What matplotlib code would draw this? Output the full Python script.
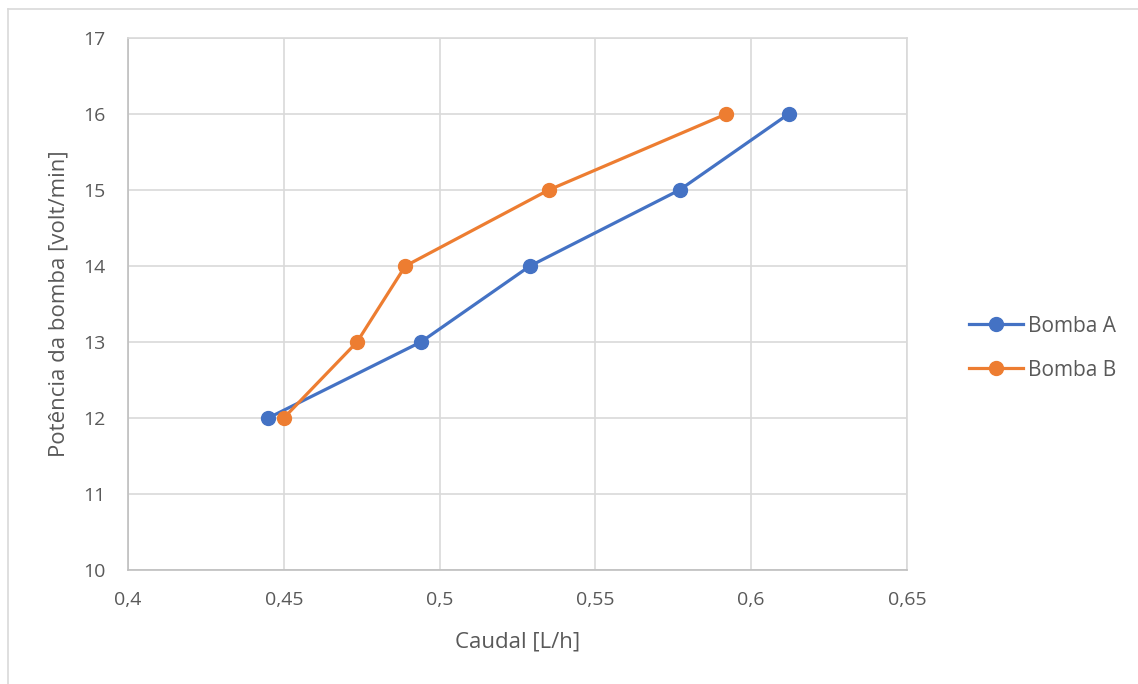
import matplotlib
matplotlib.use("Agg")
import matplotlib.pyplot as plt
from matplotlib.lines import Line2D
from matplotlib.ticker import FuncFormatter

plt.rcParams['font.family'] = ['Open Sans', 'DejaVu Sans']

caudal_a = [0.445, 0.494, 0.529, 0.577, 0.612]
potencia_a = [12, 13, 14, 15, 16]
caudal_b = [0.450, 0.4735, 0.489, 0.535, 0.592]
potencia_b = [12, 13, 14, 15, 16]
series_names = ["Bomba A", "Bomba B"]
x_ticks = [0.4, 0.45, 0.5, 0.55, 0.6, 0.65]
y_ticks = [10, 11, 12, 13, 14, 15, 16, 17]

blue = "#4472C4"
orange = "#ED7D31"
grid_c = "#D9D9D9"
text_c = "#595959"

fig = plt.figure(figsize=(11.38, 6.84), dpi=100)
ax = fig.add_axes([128/1138, 1 - 570/684, 779/1138, 532/684])

ax.plot(caudal_a, potencia_a, color=blue, lw=2.3, marker='o', ms=10, label=series_names[0], zorder=3)
ax.plot(caudal_b, potencia_b, color=orange, lw=2.3, marker='o', ms=10, label=series_names[1], zorder=4)

ax.set_xlim(0.4, 0.65)
ax.set_ylim(10, 17)
ax.set_xticks(x_ticks)
ax.set_yticks(y_ticks)
ax.xaxis.set_major_formatter(FuncFormatter(lambda v, p: ("%g" % round(v, 3)).replace('.', ',')))
ax.grid(True, color=grid_c, lw=1.2, zorder=0)
ax.set_axisbelow(True)
for s in ax.spines.values():
    s.set_color(grid_c)
    s.set_linewidth(1.2)
ax.spines['left'].set_color("#BFBFBF")
ax.spines['bottom'].set_color("#BFBFBF")
ax.tick_params(length=0, colors=text_c, labelsize=14)
ax.tick_params(axis='x', pad=15)
ax.tick_params(axis='y', pad=16)
ax.set_xlabel("Caudal [L/h]", color=text_c, fontsize=16, labelpad=16)
ax.set_ylabel("Potência da bomba [volt/min]", color=text_c, fontsize=16, labelpad=10)

leg = fig.legend(handles=[Line2D([], [], color=blue, lw=2.3, marker='o', ms=10),
                          Line2D([], [], color=orange, lw=2.3, marker='o', ms=10)],
                 labels=series_names, loc='center left', bbox_to_anchor=(0.835, 0.491),
                 frameon=False, fontsize=15, handlelength=2.6, labelspacing=1.1,
                 handletextpad=0.25)
for t in leg.get_texts():
    t.set_color(text_c)

# outer chart-area border
fig.add_artist(Line2D([8/1138, 8/1138], [0, 1 - 9/684], color="#D9D9D9", lw=1.2, transform=fig.transFigure))
fig.add_artist(Line2D([8/1138, 1], [1 - 9/684, 1 - 9/684], color="#D9D9D9", lw=1.2, transform=fig.transFigure))

fig.savefig("out.png", dpi=100)
